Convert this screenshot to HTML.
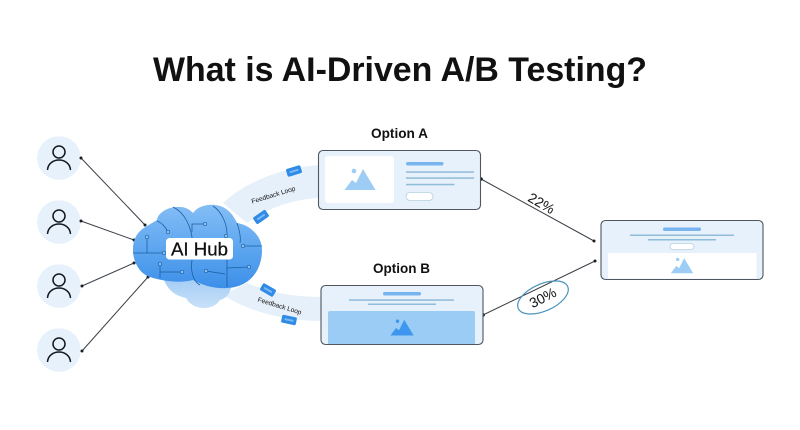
<!DOCTYPE html>
<html><head><meta charset="utf-8"><style>
html,body{margin:0;padding:0;background:#fff;width:800px;height:430px;overflow:hidden}
svg{display:block}
text{font-family:"Liberation Sans",sans-serif;fill:#111}
</style></head><body>
<svg width="800" height="430" viewBox="0 0 800 430" xmlns="http://www.w3.org/2000/svg">
<defs>
<linearGradient id="cl" x1="0" y1="0" x2="0" y2="1"><stop offset="0" stop-color="#84bdf5"/><stop offset=".55" stop-color="#5ba5ef"/><stop offset="1" stop-color="#3d8fe9"/></linearGradient>
<linearGradient id="lo" x1="0" y1="0" x2="0" y2="1"><stop offset="0" stop-color="#9fcbf5"/><stop offset="1" stop-color="#c9e1f8"/></linearGradient>
<g id="user"><circle r="21.800" fill="#e6f1fb"/><circle cy="-6" r="6" fill="none" stroke="#14181f" stroke-width="1.500"/><path d="M-11.500 12 C-11 5 -5 2 0 2 C5 2 11 5 11.500 12" fill="none" stroke="#14181f" stroke-width="1.500"/></g>
<g id="mtn"><circle cx="-6" cy="-9" r="2.300"/><path d="M-15.500 10 L-8 0 L-4 3 L3 -11 L15.500 10Z"/></g>
<g id="chip"><rect x="-7.500" y="-4" width="15" height="8" rx="1.500" fill="#2f8be6"/><rect x="-4.500" y="-1" width="9" height="2" fill="#7cb9f2"/></g>
</defs>
<text x="400" y="81" font-size="34.500" font-weight="700" text-anchor="middle" textLength="494" lengthAdjust="spacingAndGlyphs">What is AI-Driven A/B Testing?</text>

<path d="M223 203 C248 180 285 167 320 165 L320 198 C293 199 268 208 247 223Z" fill="#e6f0fa"/>
<path d="M223 295 C250 312 285 321 322 321 L322 297 C293 297 268 292 247 283Z" fill="#e6f0fa"/>
<use href="#chip" transform="translate(294 171) rotate(-17)"/>
<use href="#chip" transform="translate(261 217) rotate(-35)"/>
<use href="#chip" transform="translate(268 290) rotate(30)"/>
<use href="#chip" transform="translate(289 320) rotate(12)"/>
<text font-size="6.600" text-anchor="middle" transform="translate(274 197) rotate(-17)" fill="#333">Feedback Loop</text>
<text font-size="6.600" text-anchor="middle" transform="translate(279 308) rotate(17)" fill="#333">Feedback Loop</text>

<use href="#user" x="59" y="158"/><use href="#user" x="59" y="222"/><use href="#user" x="59" y="286"/><use href="#user" x="59" y="350"/>
<g stroke="#3a3f47" stroke-width="1" fill="none">
<path d="M81 158L145 225M81 221L134 240M82 286L134 263M82 351L148 277"/>
<path d="M481 179L594 241M483 315L595 261"/>
</g>
<g fill="#1a1d22">
<circle cx="81" cy="158" r="1.500"/><circle cx="81" cy="221" r="1.500"/><circle cx="82" cy="286" r="1.500"/><circle cx="82" cy="351" r="1.500"/>
<circle cx="145" cy="225" r="1.500"/><circle cx="134" cy="240" r="1.500"/><circle cx="134" cy="263" r="1.500"/><circle cx="148" cy="277" r="1.500"/>
<circle cx="481" cy="179" r="1.800"/><circle cx="483" cy="315" r="1.800"/><circle cx="594" cy="241" r="1.500"/><circle cx="595" cy="261" r="1.500"/>
</g>

<path d="M163 276 C166 290 176 296 186 298 C192 310 212 312 220 300 C228 298 232 290 232 280Z" fill="url(#lo)"/>
<path d="M133 250 C133 238 138 231 147 226 L157 220 C158 212 170 206 180 207 C186 207 190 210 193 213 C198 206 208 204 215 205 C226 206 233 214 237 223 C250 225 262 236 262 250 C262 270 250 287 227 288 C214 289 202 285 193 280 C182 283 165 282 150 277 C140 274 133 262 133 250Z" fill="url(#cl)"/>
<g fill="none" stroke="#1c5ea3" stroke-width=".8">
<path d="M173 207 C184 212 192 226 193 246"/><path d="M213 206 C222 212 227 224 227 234"/><path d="M157 221 C163 223 166 228 168 232"/>
<path d="M192 232V224H205"/><path d="M147 237V253"/><path d="M133 253H163"/><path d="M160 264V278M160 272H182"/>
<path d="M192 260 C190 272 194 282 200 285"/><path d="M227 259V287"/><path d="M227 268L249 267"/><path d="M206 271L225 274"/><path d="M243 246H262"/><path d="M237 223 C240 232 241 238 240 243"/>
</g>
<g fill="#8cc3f7" stroke="#1c5ea3" stroke-width=".7">
<circle cx="168" cy="232" r="1.700"/><circle cx="205" cy="224" r="1.700"/><circle cx="147" cy="237" r="1.700"/><circle cx="164" cy="253" r="1.700"/><circle cx="160" cy="264" r="1.700"/><circle cx="182" cy="272" r="1.700"/><circle cx="206" cy="271" r="1.700"/><circle cx="249" cy="267" r="1.700"/><circle cx="243" cy="246" r="1.700"/><circle cx="226" cy="236" r="1.700"/>
</g>
<rect x="166" y="238" width="67" height="21.500" rx="3.500" fill="#fff"/>
<text x="199.500" y="255.500" font-size="18" text-anchor="middle" textLength="57" lengthAdjust="spacingAndGlyphs" stroke="#111" stroke-width=".25">AI Hub</text>

<text x="399.500" y="138" font-size="13.500" font-weight="700" text-anchor="middle" textLength="57" lengthAdjust="spacingAndGlyphs">Option A</text>
<text x="401.500" y="273" font-size="13.500" font-weight="700" text-anchor="middle" textLength="57" lengthAdjust="spacingAndGlyphs">Option B</text>

<rect x="318.500" y="150.500" width="162" height="59" rx="4.500" fill="#e6f1fb" stroke="#4f565d" stroke-width="1.100"/>
<rect x="325" y="156" width="69" height="47" rx="3" fill="#fff"/>
<use href="#mtn" transform="translate(360 180)" fill="#9dccf5"/>
<rect x="406" y="162" width="37.500" height="3.500" rx="1.700" fill="#78b5ee"/>
<rect x="406" y="171.300" width="68" height="1.500" fill="#8fbcd8"/>
<rect x="406" y="177.300" width="68" height="1.500" fill="#8fbcd8"/>
<rect x="406" y="183.800" width="48.500" height="1.500" fill="#8fbcd8"/>
<rect x="406" y="192.500" width="27" height="8" rx="4" fill="#fff" stroke="#b5cfe0" stroke-width=".8"/>

<rect x="321" y="285.500" width="162" height="59" rx="4.500" fill="#e6f1fb" stroke="#4f565d" stroke-width="1.100"/>
<path d="M328 313 a2 2 0 0 1 2-2 H473 a2 2 0 0 1 2 2 V344 H328Z" fill="#9accf6"/>
<rect x="383" y="292" width="38" height="3.500" rx="1.700" fill="#78b5ee"/>
<rect x="349" y="299.300" width="105" height="1.500" fill="#8fbcd8"/>
<rect x="368" y="303.500" width="68" height="1.500" fill="#8fbcd8"/>
<use href="#mtn" transform="translate(402 328) scale(.75)" fill="#3f96ee"/>

<rect x="601" y="220.500" width="162" height="59" rx="4.500" fill="#e6f1fb" stroke="#4f565d" stroke-width="1.100"/>
<path d="M608 253 H756.500 V278.500 H608Z" fill="#fff"/>
<rect x="663" y="227.500" width="38" height="3.500" rx="1.700" fill="#78b5ee"/>
<rect x="630" y="234.500" width="104" height="1.500" fill="#8fbcd8"/>
<rect x="648" y="239" width="68" height="1.500" fill="#8fbcd8"/>
<rect x="670" y="243.500" width="24" height="6" rx="3" fill="#fff" stroke="#b5cfe0" stroke-width=".8"/>
<use href="#mtn" transform="translate(682 266) scale(.72)" fill="#9dccf5"/>

<text font-size="14" text-anchor="middle" transform="translate(539 207.500) rotate(30)" fill="#333">22%</text>
<ellipse cx="543" cy="297.500" rx="27" ry="13.500" transform="rotate(-24 543 297.500)" fill="none" stroke="#4b93bd" stroke-width="1.200"/>
<text font-size="14" text-anchor="middle" transform="translate(545 302) rotate(-27)" fill="#333">30%</text>
</svg>
</body></html>
